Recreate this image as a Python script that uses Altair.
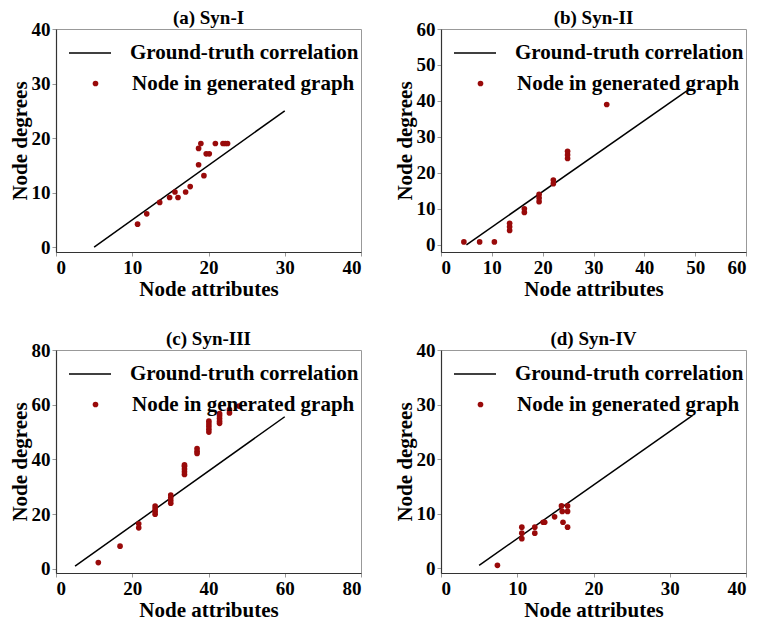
import altair as alt
import pandas as pd

FONT = "Liberation Serif"
RED = "#990a0a"

# ---- data ----
titles = ["(a) Syn-I", "(b) Syn-II", "(c) Syn-III", "(d) Syn-IV"]

xa = [10.7, 11.9, 13.6, 14.9, 15.6, 16.0, 17.0, 17.6, 18.7, 19.4, 18.7, 19.0, 19.7, 20.1, 20.9, 21.9, 22.2, 22.5]
ya = [4.2, 6.1, 8.2, 9.1, 10.1, 9.1, 10.1, 11.1, 15.1, 13.1, 18.1, 19.0, 17.1, 17.1, 19.0, 19.0, 19.0, 19.0]
line_a_x = [5, 30]
line_a_y = [0, 25]

xb = [4.5, 7.6, 10.5, 13.5, 13.5, 13.5, 16.4, 16.4, 19.3, 19.3, 19.3, 22.1, 22.1, 24.9, 24.9, 24.9, 32.6]
yb = [0.8, 0.8, 0.8, 4, 5, 6, 9, 10, 12, 13, 14, 17, 18, 24, 25, 26, 39]
line_b_x = [5, 49]
line_b_y = [0, 43.4]

xc = [11.1, 16.8, 21.7, 21.7, 26.0, 26.0, 26.0, 26.0, 30.1, 30.1, 30.1, 30.1,
      33.7, 33.7, 33.7, 33.7, 33.7, 37.0, 37.0, 37.0,
      40.1, 40.1, 40.1, 40.1, 40.1, 42.9, 42.9, 42.9, 42.9, 42.9, 45.5, 45.5, 48.0]
yc = [2.3, 8.3, 15, 16.5, 20, 21, 22, 23, 24, 25, 26, 27,
      34.5, 35.5, 36.5, 37.5, 38, 42.2, 43, 44,
      50, 51, 52, 53, 54, 53.2, 54, 55, 56, 56.8, 57, 58.2, 59.5]
line_c_x = [5, 60]
line_c_y = [1, 55.6]

xd = [7.4, 10.6, 10.6, 10.6, 12.3, 12.3, 13.4, 13.6, 14.9, 15.8, 15.9, 16.0, 16.6, 16.6, 16.6]
yd = [0.5, 7.5, 6.4, 5.4, 7.5, 6.4, 8.4, 8.4, 9.4, 11.4, 10.4, 8.4, 11.4, 10.4, 7.5]
line_d_x = [5, 33]
line_d_y = [0.5, 28]

x_max = [40, 60, 80, 40]
y_min = [-0.9, -2.0, -1.5, -0.9]
y_max = [40, 60, 80, 40]
x_ticks = [[0, 10, 20, 30, 40], [0, 10, 20, 30, 40, 50, 60], [0, 20, 40, 60, 80], [0, 10, 20, 30, 40]]
y_ticks = [[0, 10, 20, 30, 40], [0, 10, 20, 30, 40, 50, 60], [0, 20, 40, 60, 80], [0, 10, 20, 30, 40]]

LINE_LABEL = "Ground-truth correlation"
PT_LABEL = "Node in generated graph"

W, H = 305, 223
LEG_FS = 21


def panel(i, xs, ys, lx, ly):
    pts = pd.DataFrame({"x": xs, "y": ys, "series": PT_LABEL})
    ln = pd.DataFrame({"x": lx, "y": ly, "series": LINE_LABEL})
    xsc = alt.Scale(domain=[0, x_max[i]], nice=False, zero=False)
    ysc = alt.Scale(domain=[y_min[i], y_max[i]], nice=False, zero=False)
    xax = alt.Axis(values=x_ticks[i], title="Node attributes")
    yax = alt.Axis(values=y_ticks[i], title="Node degrees")
    line = alt.Chart(ln).mark_line(strokeWidth=1.5).encode(
        x=alt.X("x:Q", scale=xsc, axis=xax),
        y=alt.Y("y:Q", scale=ysc, axis=yax),
        stroke=alt.Stroke(
            "series:N",
            scale=alt.Scale(domain=[LINE_LABEL], range=["black"]),
            legend=alt.Legend(
                orient="none", legendX=12, legendY=2, title=None,
                symbolType="stroke", symbolSize=1764, symbolStrokeWidth=1.5,
                labelFont=FONT, labelFontSize=LEG_FS, labelFontWeight="bold",
                labelColor="black", labelOffset=18, padding=0, labelLimit=400,
            ),
        ),
    )
    points = alt.Chart(pts).mark_point(filled=True, size=32, opacity=1).encode(
        x=alt.X("x:Q", scale=xsc, axis=xax),
        y=alt.Y("y:Q", scale=ysc, axis=yax),
        fill=alt.Fill(
            "series:N",
            scale=alt.Scale(domain=[PT_LABEL], range=[RED]),
            legend=alt.Legend(
                orient="none", legendX=29, legendY=44, title=None,
                symbolType="circle", symbolSize=32, symbolStrokeWidth=0,
                labelFont=FONT, labelFontSize=LEG_FS, labelFontWeight="bold",
                labelColor="black", labelOffset=26, padding=0, labelLimit=400,
            ),
        ),
    )
    return alt.layer(line, points).properties(
        width=W, height=H,
        title=alt.TitleParams(titles[i], font=FONT, fontSize=19, fontWeight="bold",
                              color="black", offset=-8, frame="group"),
    ).resolve_scale(stroke="independent", fill="independent")


pa = panel(0, xa, ya, line_a_x, line_a_y)
pb = panel(1, xb, yb, line_b_x, line_b_y)
pc = panel(2, xc, yc, line_c_x, line_c_y)
pd_ = panel(3, xd, yd, line_d_x, line_d_y)

row1 = alt.hconcat(pa, pb, spacing=31).resolve_scale(
    x="independent", y="independent", stroke="independent", fill="independent"
).resolve_legend(stroke="independent", fill="independent")
row2 = alt.hconcat(pc, pd_, spacing=31).resolve_scale(
    x="independent", y="independent", stroke="independent", fill="independent"
).resolve_legend(stroke="independent", fill="independent")

chart = alt.vconcat(row1, row2, spacing=29).resolve_scale(
    x="independent", y="independent", stroke="independent", fill="independent"
).resolve_legend(stroke="independent", fill="independent").properties(
    padding={"left": 0, "top": 0, "right": 0, "bottom": 0}
).configure_axis(
    labelFont=FONT, labelFontSize=19, labelFontWeight="bold", labelColor="black",
    titleFont=FONT, titleFontSize=21, titleFontWeight="bold", titleColor="black",
    grid=False, tickColor="#999", tickSize=4, domainColor="#333", domainWidth=1.2,
    labelPadding=2, titlePadding=1,
).configure_view(stroke="#999", strokeWidth=1)

chart.save("out.html", embed_options={"renderer": "svg", "actions": False})
